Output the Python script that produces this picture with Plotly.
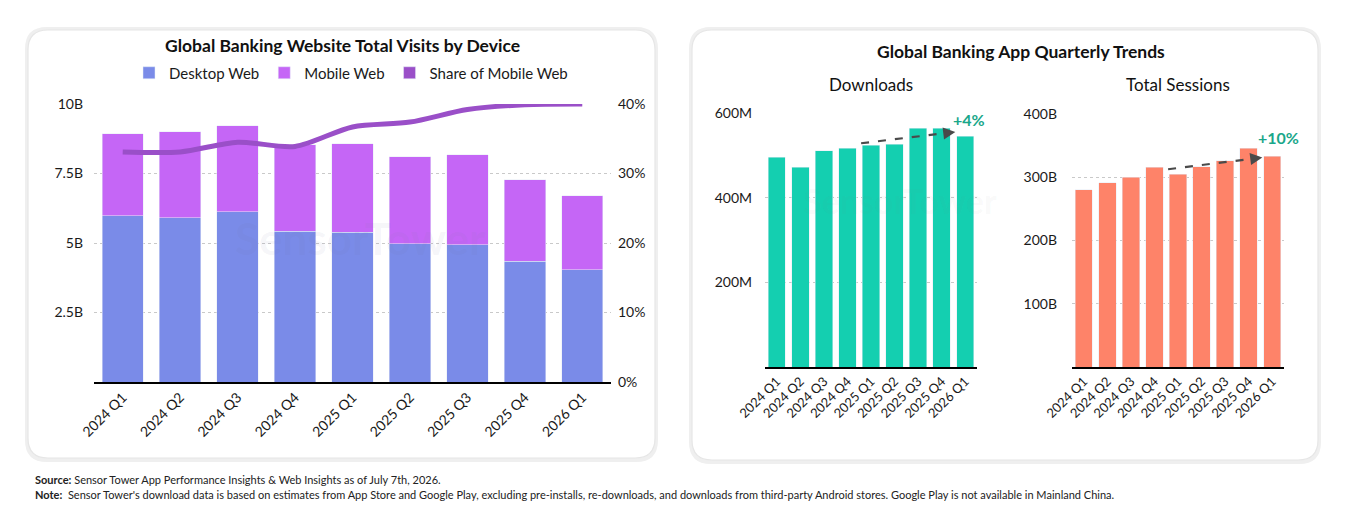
import plotly.graph_objects as go

W, H = 1354, 522
FONT = "Lato"

quarters = ["2024 Q1", "2024 Q2", "2024 Q3", "2024 Q4", "2025 Q1",
            "2025 Q2", "2025 Q3", "2025 Q4", "2026 Q1"]
desktop_web_b = [5.98, 5.91, 6.13, 5.43, 5.38, 4.97, 4.93, 4.35, 4.04]
mobile_web_b = [2.95, 3.09, 3.09, 3.11, 3.19, 3.13, 3.25, 2.93, 2.66]
mobile_share_pct = [33.1, 33.1, 34.5, 33.9, 36.7, 37.4, 39.2, 39.9, 40.0]
downloads_m = [496, 472, 512, 517, 525, 527, 565, 565, 546]
sessions_b = [280, 291, 300, 316, 305, 317, 326, 346, 333]

left_y_ticks = [2.5, 5, 7.5, 10]
left_y_labels = ["2.5B", "5B", "7.5B", "10B"]
share_ticks = [0, 10, 20, 30, 40]
share_labels = ["0%", "10%", "20%", "30%", "40%"]
dl_ticks = [200, 400, 600]
dl_labels = ["200M", "400M", "600M"]
ses_ticks = [100, 200, 300, 400]
ses_labels = ["100B", "200B", "300B", "400B"]
dl_growth = "+4%"
ses_growth = "+10%"

C_DESK = "#7A8BE8"
C_MOB = "#C566F6"
C_LINE = "#9A4FC8"
C_TEAL = "#14CFB0"
C_SALMON = "#FE8369"
C_GREEN = "#1AA78A"
C_TXT = "#1a1a1a"


def px(x):
    return x / W


def py(y):
    return 1 - y / H


fig = go.Figure()

fig.add_trace(go.Bar(x=quarters, y=desktop_web_b, name="Desktop Web", marker_color=C_DESK,
                     width=0.72, xaxis="x", yaxis="y", hoverinfo="skip"))
fig.add_trace(go.Bar(x=quarters, y=mobile_web_b, name="Mobile Web", marker_color=C_MOB,
                     width=0.72, xaxis="x", yaxis="y", hoverinfo="skip"))
# legend swatch for the share line (square like the reference)
fig.add_trace(go.Bar(x=[None], y=[None], name="Share of Mobile Web", marker_color=C_LINE,
                     xaxis="x", yaxis="y"))
fig.add_trace(go.Scatter(x=quarters, y=mobile_share_pct, mode="lines", name="Share of Mobile Web",
                         line=dict(color=C_LINE, width=5, shape="spline", smoothing=0.8),
                         xaxis="x", yaxis="y2", showlegend=False, hoverinfo="skip"))

fig.add_trace(go.Bar(x=quarters, y=downloads_m, marker_color=C_TEAL, width=0.74,
                     xaxis="x3", yaxis="y3", showlegend=False, hoverinfo="skip"))
fig.add_trace(go.Bar(x=quarters, y=sessions_b, marker_color=C_SALMON, width=0.74,
                     xaxis="x4", yaxis="y4", showlegend=False, hoverinfo="skip"))

grid = dict(showgrid=True, gridcolor="#c9c9c9", griddash="dot", gridwidth=1,
            zeroline=False, showline=False, ticks="", automargin=False)
xcommon = dict(type="category", tickangle=-45, showline=True, linecolor="#000000",
               linewidth=1.5, ticks="", showgrid=False, zeroline=False, automargin=False)

fig.update_layout(
    width=W, height=H,
    margin=dict(l=0, r=0, t=0, b=0, autoexpand=False),
    paper_bgcolor="white", plot_bgcolor="rgba(0,0,0,0)",
    font=dict(family=FONT, color=C_TXT),
    barmode="stack",
    showlegend=True,
    legend=dict(orientation="h", x=px(351), y=py(73), xanchor="center", yanchor="middle",
                font=dict(size=15, color=C_TXT), bgcolor="rgba(0,0,0,0)",
                traceorder="normal", itemwidth=30, tracegroupgap=0),
    xaxis=dict(domain=[px(94), px(611)], anchor="y", tickfont=dict(size=14), **xcommon),
    yaxis=dict(domain=[py(382), py(104)], range=[0, 10], tickvals=left_y_ticks,
               ticktext=left_y_labels, tickfont=dict(size=14), ticklabelstandoff=10, **grid),
    yaxis2=dict(overlaying="y", anchor="x", side="right", range=[0, 40], tickvals=share_ticks,
                ticktext=share_labels, tickfont=dict(size=14), showgrid=False, zeroline=False,
                showline=False, ticks="", ticklabelstandoff=6, automargin=False),
    xaxis3=dict(domain=[px(765), px(977)], anchor="y3", tickfont=dict(size=13), **xcommon),
    yaxis3=dict(domain=[py(367), py(113.3)], range=[0, 600], tickvals=dl_ticks,
                ticktext=dl_labels, tickfont=dict(size=14), anchor="x3", ticklabelstandoff=12, **grid),
    xaxis4=dict(domain=[px(1072), px(1284)], anchor="y4", tickfont=dict(size=13), **xcommon),
    yaxis4=dict(domain=[py(367), py(114)], range=[0, 400], tickvals=ses_ticks,
                ticktext=ses_labels, tickfont=dict(size=14), anchor="x4", ticklabelstandoff=14, **grid),
)


def card_path(x0, y0, x1, y1, r):
    def P(x, y):
        return f"{x / W:.5f},{1 - y / H:.5f}"
    return (f"M {P(x0 + r, y0)} L {P(x1 - r, y0)} Q {P(x1, y0)} {P(x1, y0 + r)} "
            f"L {P(x1, y1 - r)} Q {P(x1, y1)} {P(x1 - r, y1)} L {P(x0 + r, y1)} "
            f"Q {P(x0, y1)} {P(x0, y1 - r)} L {P(x0, y0 + r)} Q {P(x0, y0)} {P(x0 + r, y0)} Z")


shapes = []
for (x0, y0, x1, y1) in [(28, 30, 655, 458), (692, 30, 1318, 460)]:
    shapes.append(dict(type="path", xref="paper", yref="paper", layer="below",
                       path=card_path(x0 - 1, y0 - 1, x1 + 1, y1 + 2, 20),
                       line=dict(color="#efefef", width=4), fillcolor="white"))
    shapes.append(dict(type="path", xref="paper", yref="paper", layer="below",
                       path=card_path(x0, y0, x1, y1, 20),
                       line=dict(color="#e6e6e6", width=1.2), fillcolor="white"))

# trend arrows: from 2025 Q1 to 2026 Q1 (year-over-year)
i0, i1 = quarters.index("2025 Q1"), quarters.index("2026 Q1")
dl_start, dl_end = downloads_m[i0] * 1.008, downloads_m[i1] * 1.018
ses_start, ses_end = sessions_b[i0] * 1.025, sessions_b[i1] * 0.995
arrows = [("x3", "y3", dl_start, dl_end), ("x4", "y4", ses_start, ses_end)]
annotations = []
for xr, yr, ys, ye in arrows:
    xs, xe = i0 - 0.42, i1 - 0.42
    xm = xe - 0.45
    ym = ys + (ye - ys) * (xm - xs) / (xe - xs)
    shapes.append(dict(type="line", xref=xr, yref=yr, x0=xs, y0=ys, x1=xm, y1=ym,
                       line=dict(color="#4a4a4a", width=2.2, dash="8px,9px")))
    annotations.append(dict(xref=xr, yref=yr, axref=xr, ayref=yr, x=xe, y=ye, ax=xm, ay=ym,
                            text="", showarrow=True, arrowhead=2, arrowsize=1.1,
                            arrowwidth=2.2, arrowcolor="#4a4a4a"))


def txt(x, y, text, size, color="#111", xanchor="center", yanchor="middle", xref="paper", yref="paper"):
    return dict(xref=xref, yref=yref, x=x, y=y, text=text, showarrow=False,
                xanchor=xanchor, yanchor=yanchor, font=dict(size=size, color=color))


annotations += [
    txt(px(969), py(120), f"<b>{dl_growth}</b>", 16, C_GREEN),
    txt(px(1278), py(137), f"<b>{ses_growth}</b>", 16, C_GREEN),
    txt(px(342), py(45), "<b>Global Banking Website Total Visits by Device</b>", 17.5),
    txt(px(1021), py(52), "<b>Global Banking App Quarterly Trends</b>", 17.5),
    txt(px(871), py(84), "Downloads", 17),
    txt(px(1178), py(84), "Total Sessions", 17),
    txt(px(360), py(238), "<b>SensorTower</b>", 44, "rgba(120,120,160,0.07)"),
    txt(px(900), py(200), "<b>SensorTower</b>", 34, "rgba(120,120,120,0.05)"),
    txt(px(33), py(479),
        "<b>Source:</b> Sensor Tower App Performance Insights &amp; Web Insights as of July 7th, 2026.",
        11, "#222", xanchor="left"),
    txt(px(33), py(494),
        "<b>Note:</b>  Sensor Tower's download data is based on estimates from App Store and Google Play, "
        "excluding pre-installs, re-downloads, and downloads from third-party Android stores. "
        "Google Play is not available in Mainland China.",
        11, "#222", xanchor="left"),
]

fig.update_layout(shapes=shapes, annotations=annotations)
fig.write_html("out.html", config={"displayModeBar": False})
